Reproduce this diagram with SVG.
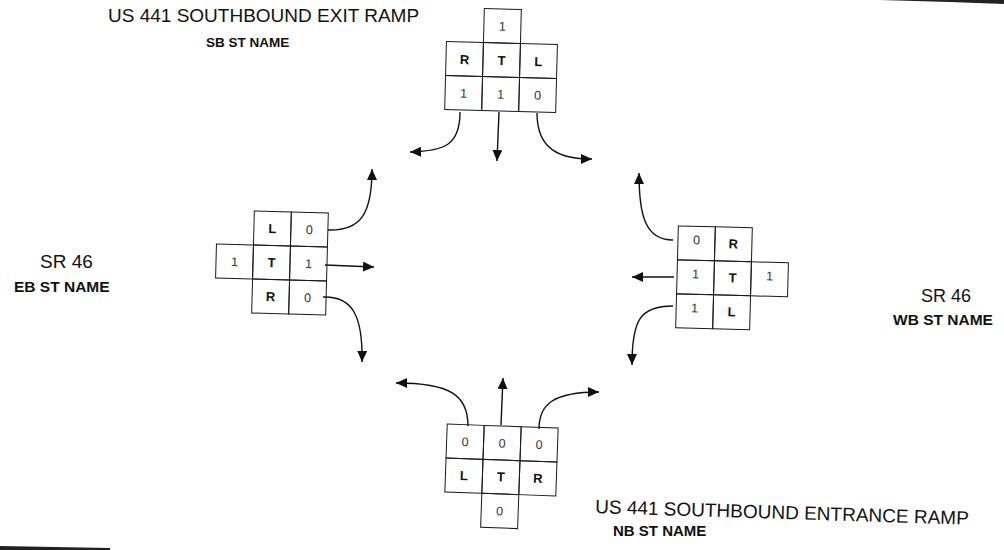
<svg xmlns="http://www.w3.org/2000/svg" width="1004" height="550" viewBox="0 0 1004 550">
<style>
.cell{fill:none;stroke:#1a1a1a;stroke-width:1}
.lt{font-family:"Liberation Sans",Arial,sans-serif;font-size:13px;font-weight:bold;fill:#111;text-anchor:middle}
.nm{font-family:"Liberation Sans",Arial,sans-serif;font-size:12.5px;fill:#333;text-anchor:middle}
.lbl{font-family:"Liberation Sans",Arial,sans-serif;fill:#111}
.b{font-weight:bold}
.con{fill:none;stroke:#111;stroke-width:1.4;marker-end:url(#ah)}
</style>
<defs>
<marker id="ah" markerUnits="userSpaceOnUse" markerWidth="12" markerHeight="10" refX="11" refY="5" orient="auto">
<path d="M0,0 L11,5 L0,10 Z" fill="#111"/>
</marker>
</defs>
<rect width="1004" height="550" fill="#fff"/>
<polygon points="880,0 1004,0 1004,4 950,2" fill="#222"/>
<polygon points="0,546 110,548 110,550 0,550" fill="#222"/>

<g id="top-grid" transform="rotate(1.5 501 60)">
<rect class="cell" x="483" y="9" width="37" height="34"/>
<rect class="cell" x="446" y="43" width="37" height="34"/>
<rect class="cell" x="483" y="43" width="37" height="34"/>
<rect class="cell" x="520" y="43" width="37" height="34"/>
<rect class="cell" x="446" y="77" width="37" height="34"/>
<rect class="cell" x="483" y="77" width="37" height="34"/>
<rect class="cell" x="520" y="77" width="37" height="34"/>
<text class="nm" x="501.5" y="30.5">1</text>
<text class="lt" x="464.5" y="65">R</text>
<text class="lt" x="501.5" y="65">T</text>
<text class="lt" x="538.5" y="65">L</text>
<text class="nm" x="464.5" y="98.5">1</text>
<text class="nm" x="501.5" y="98.5">1</text>
<text class="nm" x="538.5" y="98.5">0</text>
</g>

<g id="left-grid" transform="rotate(1.5 290 263)">
<rect class="cell" x="253" y="212" width="37" height="34"/>
<rect class="cell" x="290" y="212" width="37" height="34"/>
<rect class="cell" x="216" y="246" width="37" height="34"/>
<rect class="cell" x="253" y="246" width="37" height="34"/>
<rect class="cell" x="290" y="246" width="37" height="34"/>
<rect class="cell" x="253" y="280" width="37" height="34"/>
<rect class="cell" x="290" y="280" width="37" height="34"/>
<text class="lt" x="271.5" y="233.5">L</text>
<text class="nm" x="308.5" y="233.5">0</text>
<text class="nm" x="234.5" y="267.5">1</text>
<text class="lt" x="271.5" y="267.5">T</text>
<text class="nm" x="308.5" y="267.5">1</text>
<text class="lt" x="271.5" y="301.5">R</text>
<text class="nm" x="308.5" y="301.5">0</text>
</g>

<g id="right-grid" transform="rotate(1.5 720 278)">
<rect class="cell" x="677" y="227" width="37" height="34"/>
<rect class="cell" x="714" y="227" width="37" height="34"/>
<rect class="cell" x="677" y="261" width="37" height="34"/>
<rect class="cell" x="714" y="261" width="37" height="34"/>
<rect class="cell" x="751" y="261" width="37" height="34"/>
<rect class="cell" x="677" y="295" width="37" height="34"/>
<rect class="cell" x="714" y="295" width="37" height="34"/>
<text class="nm" x="695.5" y="245">0</text>
<text class="lt" x="732.5" y="248">R</text>
<text class="nm" x="695.5" y="279">1</text>
<text class="lt" x="732.5" y="282">T</text>
<text class="nm" x="769.5" y="279">1</text>
<text class="nm" x="695.5" y="313">1</text>
<text class="lt" x="732.5" y="316">L</text>
</g>

<g id="bottom-grid" transform="rotate(2 501 460)">
<rect class="cell" x="446" y="426" width="37" height="34"/>
<rect class="cell" x="483" y="426" width="37" height="34"/>
<rect class="cell" x="520" y="426" width="37" height="34"/>
<rect class="cell" x="446" y="460" width="37" height="34"/>
<rect class="cell" x="483" y="460" width="37" height="34"/>
<rect class="cell" x="520" y="460" width="37" height="34"/>
<rect class="cell" x="483" y="494" width="37" height="34"/>
<text class="nm" x="464.5" y="447.5">0</text>
<text class="nm" x="501.5" y="447.5">0</text>
<text class="nm" x="538.5" y="447.5">0</text>
<text class="lt" x="464.5" y="481.5">L</text>
<text class="lt" x="501.5" y="481.5">T</text>
<text class="lt" x="538.5" y="481.5">R</text>
<text class="nm" x="501.5" y="515.5">0</text>
</g>

<g id="connectors">
<path class="con" d="M460,112 C460,145 445,151 410,152"/>
<path class="con" d="M499,112 L497,161"/>
<path class="con" d="M537,113 C537,150 560,159 592,159"/>
<path class="con" d="M328,230 C360,231 372,215 372,169"/>
<path class="con" d="M325,265 L374,267"/>
<path class="con" d="M323,297 C352,296 363,315 362,362"/>
<path class="con" d="M673,240 C645,240 639,215 639,173"/>
<path class="con" d="M674,277 L632,277"/>
<path class="con" d="M673,306 C640,306 632,320 632,365"/>
<path class="con" d="M468,426 C468,395 450,383 396,383"/>
<path class="con" d="M501,425 L503,378"/>
<path class="con" d="M539,429 C539,405 552,392 599,392"/>
</g>

<g id="labels">
<text class="lbl" x="108" y="22" font-size="19">US 441 SOUTHBOUND EXIT RAMP</text>
<text class="lbl b" x="206" y="47" font-size="13.5">SB ST NAME</text>
<text class="lbl" x="40" y="268" font-size="19">SR 46</text>
<text class="lbl b" x="14" y="292" font-size="15.5">EB ST NAME</text>
<text class="lbl" x="921" y="302" font-size="18">SR 46</text>
<text class="lbl b" x="893" y="325" font-size="15.5">WB ST NAME</text>
<text class="lbl" x="595" y="513" font-size="19" transform="rotate(1.8 595 513)">US 441 SOUTHBOUND ENTRANCE RAMP</text>
<text class="lbl b" x="613" y="536" font-size="15">NB ST NAME</text>
</g>
</svg>
